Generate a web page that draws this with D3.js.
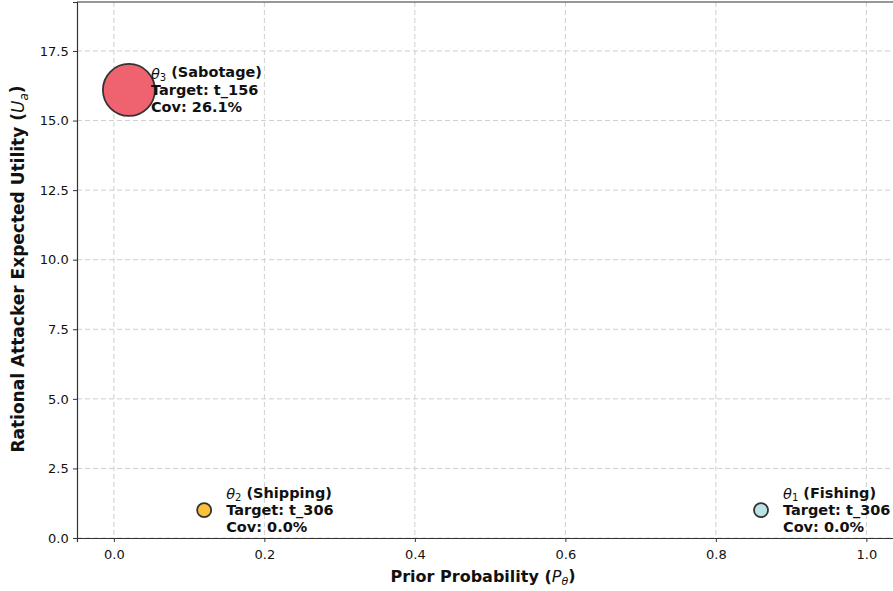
<!DOCTYPE html>
<html>
<head>
<meta charset="utf-8">
<script src="https://cdn.jsdelivr.net/npm/d3@7"></script>
<style>
  body { margin: 0; background: #fff; }
  svg text { font-family: "DejaVu Sans", sans-serif; }
</style>
</head>
<body>
<svg id="chart" width="893" height="591"></svg>
<script>
// attacker types
const types = ["1", "2", "3"];
const typeNames = ["Fishing", "Shipping", "Sabotage"];
const priors = [0.86, 0.12, 0.02];
const utilities = [1.0, 1.0, 16.1];
const targets = ["t_306", "t_306", "t_156"];
const coverage = [0.0, 0.0, 26.1];
const colors = ["#b7e0e3", "#fbbf2c", "#ee5b69"];
const xTicks = [0.0, 0.2, 0.4, 0.6, 0.8, 1.0];
const yTicks = [0.0, 2.5, 5.0, 7.5, 10.0, 12.5, 15.0, 17.5];

const svg = d3.select("#chart");
const margin = { left: 77, top: 2, right: -11, bottom: 53 };
const width = 893 - margin.left - margin.right;
const height = 591 - margin.top - margin.bottom;

const x = d3.scaleLinear().domain([-0.049, 1.05]).range([0, width]);
const y = d3.scaleLinear().domain([0, 19.26]).range([height, 0]);
// marker radius grows with coverage
const r = d3.scaleSqrt().domain([0, 26.1]).range([7, 26]);

const g = svg.append("g").attr("transform", `translate(${margin.left},${margin.top})`);

// grid
g.append("g")
  .selectAll("line")
  .data(xTicks)
  .join("line")
  .attr("x1", d => x(d)).attr("x2", d => x(d))
  .attr("y1", 0).attr("y2", height)
  .attr("stroke", "#cfcfcf").attr("stroke-dasharray", "5,3");
g.append("g")
  .selectAll("line")
  .data(yTicks)
  .join("line")
  .attr("y1", d => y(d)).attr("y2", d => y(d))
  .attr("x1", 0).attr("x2", width)
  .attr("stroke", "#cfcfcf").attr("stroke-dasharray", "5,3");

// axes
const xAxis = g.append("g")
  .attr("transform", `translate(0,${height})`)
  .call(d3.axisBottom(x).tickValues(xTicks).tickFormat(d3.format(".1f")).tickSizeOuter(0).tickSize(4));
const yAxis = g.append("g")
  .call(d3.axisLeft(y).tickValues(yTicks).tickFormat(d3.format(".1f")).tickSizeOuter(0).tickSize(4));
[xAxis, yAxis].forEach(a => {
  a.select(".domain").attr("stroke", "#333").attr("stroke-width", 1.2);
  a.selectAll(".tick line").attr("stroke", "#333");
  a.selectAll(".tick text").attr("font-size", 13).attr("fill", "#111")
    .style("font-family", "DejaVu Sans");
});
xAxis.selectAll(".tick text").attr("dy", "1.05em");
yAxis.selectAll(".tick text").attr("dx", "-0.1em");

// top spine
g.append("line")
  .attr("x1", 0).attr("x2", width).attr("y1", 0).attr("y2", 0)
  .attr("stroke", "#333").attr("stroke-width", 1.2);

// points
const data = types.map((t, i) => ({
  t, name: typeNames[i], p: priors[i], u: utilities[i],
  target: targets[i], cov: coverage[i], color: colors[i]
}));

g.append("g")
  .selectAll("circle")
  .data(data)
  .join("circle")
  .attr("cx", d => x(d.p))
  .attr("cy", d => y(d.u))
  .attr("r", d => r(d.cov))
  .attr("fill", d => d.color)
  .attr("fill-opacity", 0.95)
  .attr("stroke", "#333")
  .attr("stroke-width", 1.8);

// labels
const labels = g.append("g")
  .selectAll("text")
  .data(data)
  .join("text")
  .attr("x", d => x(d.p) + 22)
  .attr("y", d => y(d.u) + 6)
  .attr("font-size", 14.5)
  .attr("font-weight", "bold")
  .attr("fill", "#111");

labels.each(function (d) {
  const t = d3.select(this);
  const l1 = t.append("tspan").attr("x", x(d.p) + 22).attr("dy", "-1.2em");
  l1.append("tspan").attr("font-style", "italic").attr("font-weight", "normal").text("θ");
  l1.append("tspan").attr("font-size", 10).attr("font-weight", "normal").attr("dy", "0.25em").text(d.t);
  l1.append("tspan").attr("dy", "-0.25em").text(` (${d.name})`);
  t.append("tspan").attr("x", x(d.p) + 22).attr("dy", "1.2em").text(`Target: ${d.target}`);
  t.append("tspan").attr("x", x(d.p) + 22).attr("dy", "1.2em").text(`Cov: ${d.cov.toFixed(1)}%`);
});

// axis titles
const xl = svg.append("text")
  .attr("x", 483).attr("y", 582)
  .attr("text-anchor", "middle")
  .attr("font-size", 16).attr("font-weight", "bold").attr("fill", "#111");
xl.append("tspan").text("Prior Probability (");
xl.append("tspan").attr("font-style", "italic").attr("font-weight", "normal").text("P");
xl.append("tspan").attr("font-style", "italic").attr("font-weight", "normal").attr("font-size", 11).attr("dy", "0.3em").text("θ");
xl.append("tspan").attr("dy", "-0.3em").text(")");

const yl = svg.append("text")
  .attr("transform", "translate(24,269) rotate(-90)")
  .attr("text-anchor", "middle")
  .attr("font-size", 17).attr("font-weight", "bold").attr("fill", "#111");
yl.append("tspan").text("Rational Attacker Expected Utility (");
yl.append("tspan").attr("font-style", "italic").attr("font-weight", "normal").text("U");
yl.append("tspan").attr("font-style", "italic").attr("font-weight", "normal").attr("font-size", 12).attr("dy", "0.3em").text("a");
yl.append("tspan").attr("dy", "-0.3em").text(")");
</script>
</body>
</html>
